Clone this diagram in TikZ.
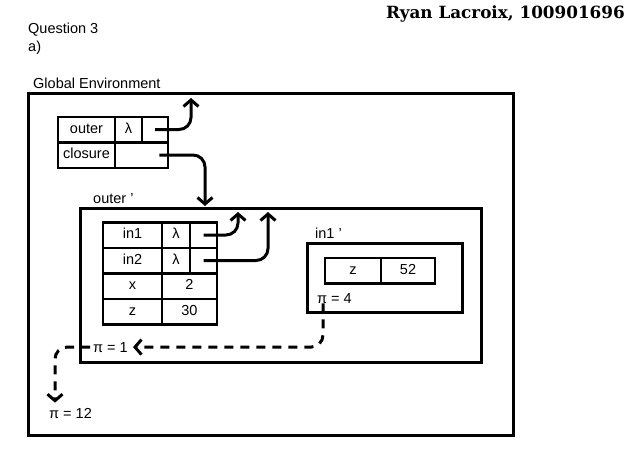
\documentclass[tikz,border=0pt]{standalone}
\usepackage{fontspec}
\setmainfont{Liberation Sans}
\newfontfamily\namefont{DejaVu Serif}
\usetikzlibrary{positioning,arrows.meta}

\begin{document}
\begin{tikzpicture}[x=1pt, y=-1pt,
      every node/.style={font=\fontsize{14.5}{16}\selectfont, inner sep=0pt},
      envbox/.style={draw, line width=3pt},
      cell/.style={draw, line width=2.5pt, minimum height=25.5pt, text height=10.5pt, text depth=3pt},
      lbl/.style={anchor=base west},
      ptr/.style={line width=3pt, rounded corners=12pt, -{Straight Barb[length=6.5pt, width=15pt]}},
      dptr/.style={ptr, dash pattern=on 9pt off 7pt}
    ]
      \useasboundingbox (0,0) rectangle (630,471);

      % Header
      \node[anchor=base east, font=\namefont\bfseries\fontsize{16.8}{18}\selectfont] (author) at (625,18) {Ryan Lacroix, 100901696};
      \node[lbl] (qn) at (28,33) {Question 3};
      \node[lbl] (qa) at (28,51) {a)};

      % Global environment
      \node[lbl] (globLbl) at (33,88) {Global Environment};
      \node[envbox, minimum width=485pt, minimum height=342pt] (glob) at (270.5,264) {};
      \node[cell, minimum width=57pt] (gOuter) at (86.5,129.5) {outer};
      \node[cell, minimum width=27pt] (gLam) at (128.5,129.5) {λ};
      \node[cell, minimum width=26pt] (gPtr) at (155,129.5) {};
      \node[cell, minimum width=57pt] (gClos) at (86.5,155) {closure};
      \node[cell, minimum width=53pt] (gCell) at (141.5,155) {};
      \coordinate (gUp) at (191,98);
      \coordinate (gDown) at (205,206);
      \draw[ptr] (gPtr.center) -| (gUp);
      \draw[ptr] ([xshift=-10pt]gCell.east) -| (gDown);

      % Frame outer'
      \node[lbl] (outerLbl) at (93,203) {outer '};
      \node[envbox, minimum width=401pt, minimum height=154pt] (outerEnv) at (280.5,285) {};
      \node[cell, minimum width=59pt] (oIn1) at (132.5,235) {in1};
      \node[cell, minimum width=28pt] (oLam1) at (176,235) {λ};
      \node[cell, minimum width=27pt] (oPtr1) at (203.5,235) {};
      \node[cell, minimum width=59pt] (oIn2) at (132.5,260.5) {in2};
      \node[cell, minimum width=28pt] (oLam2) at (176,260.5) {λ};
      \node[cell, minimum width=27pt] (oPtr2) at (203.5,260.5) {};
      \node[cell, minimum width=59pt] (oX) at (132.5,286) {x};
      \node[cell, minimum width=55pt] (oXv) at (189.5,286) {2};
      \node[cell, minimum width=59pt] (oZ) at (132.5,311.5) {z};
      \node[cell, minimum width=55pt] (oZv) at (189.5,311.5) {30};
      \coordinate (oUp1) at (238,212);
      \coordinate (oUp2) at (268,212);
      \draw[ptr] (oPtr1.center) -| (oUp1);
      \draw[ptr] (oPtr2.center) -| (oUp2);
      \node[lbl] (pi1) at (93,352) {π = 1};

      % Frame in1'
      \node[lbl] (in1Lbl) at (315,238) {in1 '};
      \node[envbox, minimum width=155pt, minimum height=69pt] (in1Env) at (384.5,277.5) {};
      \node[cell, minimum width=56pt] (iZ) at (353,270.5) {z};
      \node[cell, minimum width=54pt] (iZv) at (408,270.5) {52};
      \node[lbl] (pi4) at (317,303) {π = 4};

      % pi chain
      \node[lbl] (pi12) at (49,418) {π = 12};
      \draw[dptr] ([xshift=6pt]pi4.south west) |- ([xshift=5pt]pi1.east);
      \draw[dptr] ([xshift=-3pt]pi1.west) -| ([xshift=6pt, yshift=5pt]pi12.north west);
    \end{tikzpicture}
\end{document}
